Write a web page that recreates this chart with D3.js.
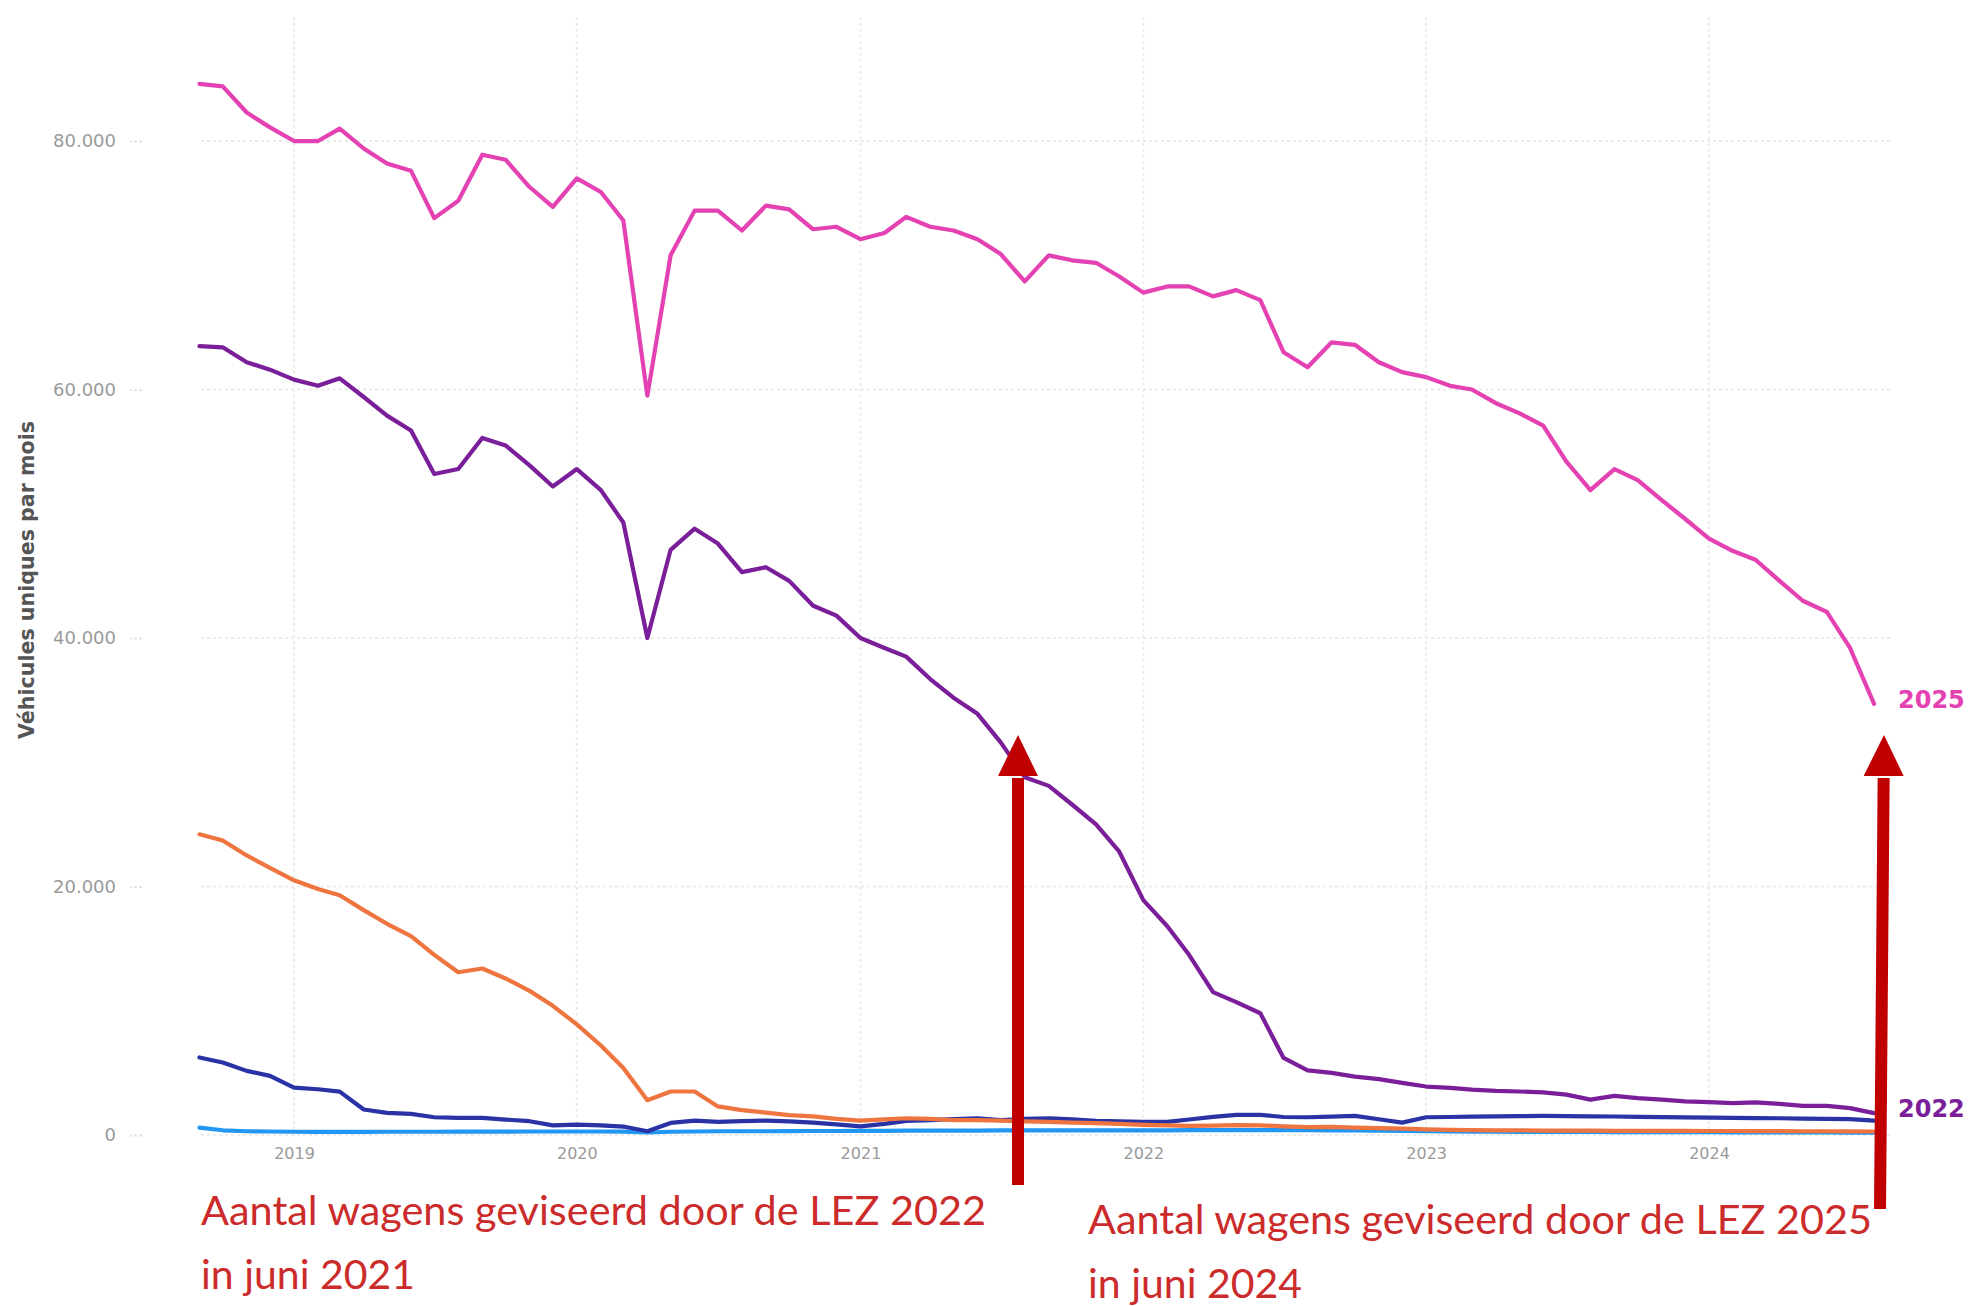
<!DOCTYPE html>
<html>
<head>
<meta charset="utf-8">
<script src="https://cdn.jsdelivr.net/npm/d3@7"></script>
<style>
  html, body { margin: 0; padding: 0; background: #ffffff; }
  svg { display: block; }
</style>
</head>
<body>
<svg id="chart" width="1970" height="1306"></svg>
<script>
// ---------------- DATA ----------------
const startMonth = "2018-09-01";   // first monthly observation
const endMonth = "2024-08-01";     // last monthly observation
const yearTicks = ["2019", "2020", "2021", "2022", "2023", "2024"];
const yTicks = [0, 20000, 40000, 60000, 80000];
const yTitle = "Véhicules uniques par mois";

// LEZ 2025 targeted vehicles (pink)
const seriesLez2025 = [
  84600, 84400, 82300, 81100,
  80000, 80000, 81000, 79400, 78200, 77600, 73800, 75200, 78900, 78500, 76300, 74700,
  77000, 75900, 73600, 59500, 70800, 74400, 74400, 72800, 74800, 74500, 72900, 73100,
  72100, 72600, 73900, 73100, 72800, 72100, 70900, 68700, 70800, 70400, 70200, 69100,
  67800, 68300, 68300, 67500, 68000, 67200, 63000, 61800, 63800, 63600, 62200, 61400,
  61000, 60300, 60000, 58900, 58100, 57100, 54200, 51900, 53600, 52700, 51100, 49600,
  48000, 47000, 46300, 44600, 43000, 42100, 39200, 34700
];
// LEZ 2022 targeted vehicles (purple)
const seriesLez2022 = [
  63500, 63400, 62200, 61600,
  60800, 60300, 60900, 59400, 57900, 56700, 53200, 53600, 56100, 55500, 53900, 52200,
  53600, 51900, 49300, 40000, 47100, 48800, 47600, 45300, 45700, 44600, 42600, 41800,
  40000, 39200, 38500, 36700, 35200, 33900, 31600, 28800, 28100, 26600, 25000, 22800,
  18900, 16800, 14500, 11500, 10700, 9800, 6200, 5200, 5000, 4700, 4500, 4200,
  3900, 3800, 3650, 3550, 3500, 3430, 3250, 2850, 3150, 2970, 2850, 2700,
  2650, 2570, 2620, 2500, 2350, 2350, 2160, 1760
];
// orange series
const seriesOrange = [
  24200, 23700, 22500, 21500,
  20500, 19800, 19300, 18100, 17000, 16000, 14500, 13100, 13400, 12600, 11600, 10400,
  8900, 7200, 5400, 2800, 3500, 3500, 2300, 2000, 1800, 1600, 1500, 1300,
  1150, 1250, 1350, 1300, 1200, 1200, 1150, 1100, 1050, 1000, 950, 900,
  820, 780, 740, 760, 800, 780, 700, 640, 650, 600, 550, 520,
  460, 420, 400, 380, 370, 360, 350, 350, 340, 340, 330, 330,
  320, 320, 310, 310, 300, 300, 290, 280
];
// dark blue series
const seriesDarkBlue = [
  6240, 5840, 5160, 4760,
  3810, 3680, 3490, 2050, 1780, 1700, 1430, 1380, 1380, 1240, 1110, 780,
  840, 780, 680, 300, 970, 1160, 1050, 1110, 1160, 1100, 1000, 850,
  700, 900, 1140, 1200, 1270, 1350, 1190, 1300, 1350, 1250, 1140, 1100,
  1050, 1050, 1250, 1460, 1620, 1620, 1450, 1430, 1480, 1540, 1270, 1000,
  1430, 1450, 1480, 1500, 1520, 1540, 1520, 1500, 1490, 1460, 1440, 1420,
  1400, 1380, 1360, 1350, 1320, 1290, 1270, 1160
];
// light blue series
const seriesLightBlue = [
  600, 380, 300, 280,
  260, 250, 250, 250, 260, 260, 260, 270, 270, 270, 280, 280,
  280, 280, 270, 200, 260, 280, 300, 300, 300, 310, 320, 320,
  330, 340, 350, 350, 360, 360, 370, 370, 380, 380, 380, 380,
  380, 380, 390, 390, 400, 400, 400, 390, 380, 370, 350, 330,
  300, 280, 270, 260, 250, 250, 240, 240, 230, 230, 220, 220,
  220, 210, 210, 200, 200, 200, 190, 190
];

const seriesLabels = ["2025", "2022"];
const annotation1 = ["Aantal wagens geviseerd door de LEZ 2022", "in juni 2021"];
const annotation2 = ["Aantal wagens geviseerd door de LEZ 2025", "in juni 2024"];

// ---------------- CHART ----------------
const svg = d3.select("#chart");
svg.append("rect").attr("width", 1970).attr("height", 1306).attr("fill", "#ffffff");

const parse = d3.timeParse("%Y-%m-%d");
const months = d3.timeMonth.range(parse(startMonth), d3.timeMonth.offset(parse(endMonth), 1));

const x = d3.scaleTime()
  .domain([parse("2019-01-01"), parse("2024-01-01")])
  .range([294, 1709]);
const y = d3.scaleLinear().domain([0, 90000]).range([1135, 16.8]);

const plotLeft = 201, plotRight = 1891;

const locale = d3.formatLocale({ decimal: ",", thousands: ".", grouping: [3], currency: ["€", ""] });
const fmt = locale.format(",d");

// horizontal grid
const grid = svg.append("g");
grid.selectAll("line.h").data(yTicks).join("line")
  .attr("x1", plotLeft).attr("x2", plotRight)
  .attr("y1", d => y(d)).attr("y2", d => y(d))
  .attr("stroke", "#ebebeb").attr("stroke-width", 2).attr("stroke-dasharray", "3,3");
// vertical grid
const yearDates = yearTicks.map(t => parse(t + "-01-01"));
grid.selectAll("line.v").data(yearDates).join("line")
  .attr("x1", d => x(d)).attr("x2", d => x(d))
  .attr("y1", y(90000)).attr("y2", 1140)
  .attr("stroke", "#ededed").attr("stroke-width", 2).attr("stroke-dasharray", "3,3");

// y axis (labels + small tick marks)
const yAxis = d3.axisLeft(y).tickValues(yTicks).tickFormat(d => fmt(d)).tickSize(12).tickPadding(14);
const gy = svg.append("g").attr("transform", "translate(142,0)").call(yAxis);
gy.select(".domain").remove();
gy.selectAll(".tick line").attr("stroke", "#e4e4e4").attr("stroke-width", 2).attr("stroke-dasharray", "3,2");
gy.selectAll(".tick text")
  .attr("fill", "#9a9a9a")
  .style("font-family", "'DejaVu Sans', sans-serif")
  .style("font-size", "18px");

// x axis (year labels)
const xAxis = d3.axisBottom(x).tickValues(yearDates).tickFormat((d, i) => yearTicks[i]).tickSize(0).tickPadding(0);
const gx = svg.append("g").attr("transform", "translate(0,1148)").call(xAxis);
gx.select(".domain").remove();
gx.selectAll(".tick text")
  .attr("fill", "#9a9a9a")
  .attr("dy", "0.71em")
  .style("font-family", "'DejaVu Sans', sans-serif")
  .style("font-size", "16px");

// y axis title
svg.append("text")
  .attr("transform", "translate(34,580) rotate(-90)")
  .attr("text-anchor", "middle")
  .attr("fill", "#555555")
  .attr("textLength", 318)
  .attr("lengthAdjust", "spacingAndGlyphs")
  .style("font-family", "'DejaVu Sans', sans-serif")
  .style("font-size", "21px")
  .style("font-weight", "bold")
  .text(yTitle);

// lines
const line = d3.line().x((d, i) => x(months[i])).y(d => y(d)).curve(d3.curveLinear);
const seriesDefs = [
  { values: seriesLightBlue, color: "#2196f3" },
  { values: seriesDarkBlue, color: "#2a33a6" },
  { values: seriesOrange, color: "#ef7540" },
  { values: seriesLez2022, color: "#7b1e99" },
  { values: seriesLez2025, color: "#e442b2" }
];
svg.append("g").selectAll("path").data(seriesDefs).join("path")
  .attr("d", d => line(d.values))
  .attr("fill", "none")
  .attr("stroke", d => d.color)
  .attr("stroke-width", 4.2)
  .attr("stroke-linejoin", "round")
  .attr("stroke-linecap", "round");

// series end labels
svg.append("text")
  .attr("x", 1898).attr("y", 708)
  .attr("fill", "#e442b2")
  .style("font-family", "'DejaVu Sans', sans-serif")
  .style("font-size", "24px").style("font-weight", "bold")
  .text(seriesLabels[0]);
svg.append("text")
  .attr("x", 1898).attr("y", 1117)
  .attr("fill", "#7b1e99")
  .style("font-family", "'DejaVu Sans', sans-serif")
  .style("font-size", "24px").style("font-weight", "bold")
  .text(seriesLabels[1]);

// red arrows
function arrow(xb, yb, xt, yt) {
  const g = svg.append("g");
  const headBase = yt + 41;
  const t = (headBase - yb) / (yt - yb);
  const xh = xb + (xt - xb) * t;
  g.append("line")
    .attr("x1", xb).attr("y1", yb).attr("x2", xh).attr("y2", headBase + 2)
    .attr("stroke", "#c00000").attr("stroke-width", 12);
  g.append("path")
    .attr("d", `M${xt},${yt} L${xh + 20},${headBase} L${xh - 20},${headBase} Z`)
    .attr("fill", "#c00000");
}
arrow(1018, 1185, 1018, 735);
arrow(1880, 1209, 1884, 735);

// annotations
function annot(lines, x0, y0, widths) {
  lines.forEach((t, i) => {
    svg.append("text")
      .attr("x", x0).attr("y", y0 + i * 64)
      .attr("fill", "#cc2b2b")
      .attr("textLength", widths[i])
      .attr("lengthAdjust", "spacingAndGlyphs")
      .style("font-family", "Lato, 'Open Sans', sans-serif")
      .style("font-size", "40px")
      .text(t);
  });
}
annot(annotation1, 201, 1225, [785, 214]);
annot(annotation2, 1088, 1234, [784, 214]);
</script>
</body>
</html>
